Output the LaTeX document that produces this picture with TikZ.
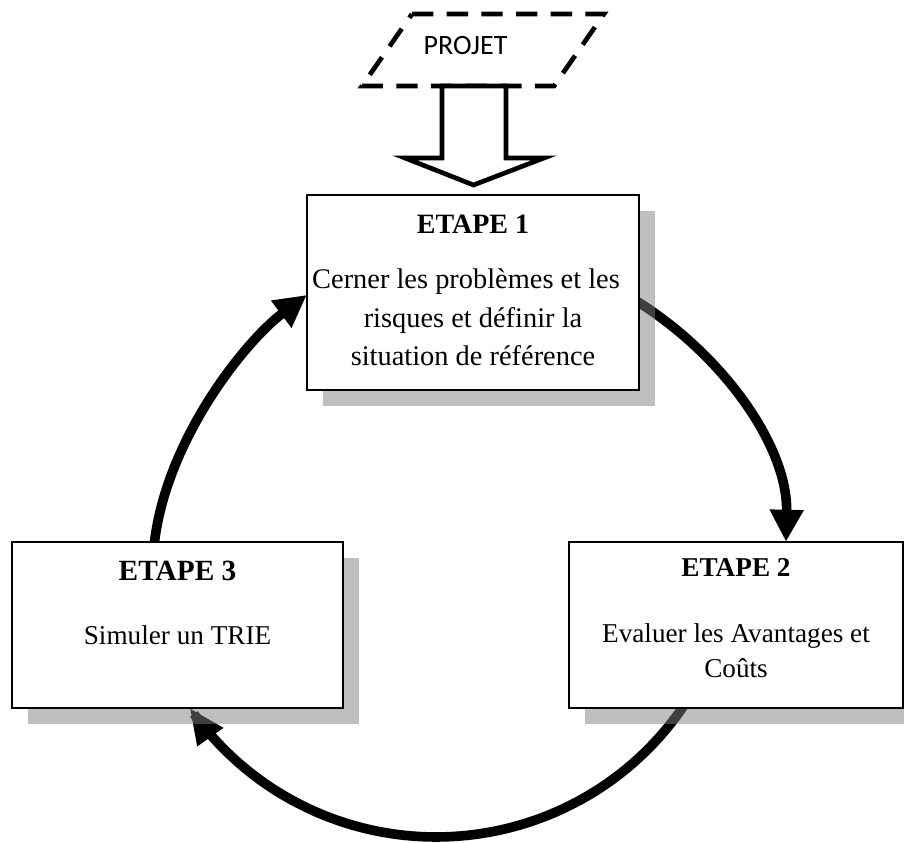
\documentclass[tikz,border=0pt]{standalone}
\usepackage{fontspec}
\setmainfont{Liberation Serif}
\newfontfamily\labelfont{Carlito}
\usetikzlibrary{arrows.meta,calc}
\definecolor{shadowgray}{RGB}{191,191,191}

\begin{document}
\begin{tikzpicture}[x=0.75pt,y=-0.75pt,
  stagebox/.style={draw=black, line width=1.5pt, fill=white, inner sep=0pt},
  shadowbox/.style={fill=shadowgray},
  shadowtint/.style={fill=shadowgray, fill opacity=0.333},
  cyclearrow/.style={line width=7.2pt, -{Triangle[length=24pt,width=24pt]}},
  steptitle/.style={font=\fontsize{20.4}{24}\selectfont\bfseries, anchor=base, inner sep=0pt},
  stepbody/.style={font=\fontsize{20.4}{24}\selectfont, anchor=base, inner sep=0pt},
  inputshape/.style={line width=3.5pt, dash pattern=on 16pt off 10pt, line join=miter},
  blockarrow/.style={draw=black, fill=white, line width=3.5pt, line join=miter},
]
\useasboundingbox (0,0) rectangle (904,843);

% stage boxes (placed first so their anchors can be used; drawn again on top)
\path (473,292.5) node[minimum width=249pt, minimum height=146.25pt, inner sep=0pt] (e1) {};
\path (736,625) node[minimum width=250.5pt, minimum height=124.5pt, inner sep=0pt] (e2) {};
\path (177.5,625) node[minimum width=248.25pt, minimum height=124.5pt, inner sep=0pt] (e3) {};

% drop shadows
\foreach \b in {e1,e2,e3}
  \fill[shadowbox] ($(\b.north west)+(16,16)$) rectangle ($(\b.south east)+(16,16)$);

% cycle connectors
\coordinate (a1s) at ($(e1.east)+(-11,3.5)$);
\coordinate (a1t) at ($(e2.north)+(50,0)$);
\draw[cyclearrow] (a1s) .. controls (720,350) and (788,445) .. (a1t);

\draw[cyclearrow, -{Triangle[length=27pt,width=22pt]}]
  plot[domain=30:145.5, samples=80] ({436+299*cos(\x)},{539+298*sin(\x)});

\coordinate (a3s) at ($(e3.north)+(-24.5,18)$);
\coordinate (a3t) at ($(e1.west)+(0,2.5)$);
\draw[cyclearrow] (a3s) .. controls (158,450) and (243,343) .. (a3t);

% shadows tint the connectors passing over them
\foreach \b in {e1,e2,e3}
  \fill[shadowtint] ($(\b.north west)+(16,16)$) rectangle ($(\b.south east)+(16,16)$);

% box frames
\foreach \b in {e1,e2,e3}
  \draw[stagebox] (\b.north west) rectangle (\b.south east);

% stage texts
\node[steptitle, font=\fontsize{21}{25}\selectfont\bfseries] (e1t) at (473,233) {ETAPE 1};
\node[stepbody, font=\fontsize{21.3}{25}\selectfont] (e1a) at (466,288) {Cerner les problèmes et les};
\node[stepbody, font=\fontsize{21.3}{25}\selectfont] (e1b) at (473,327) {risques et définir la};
\node[stepbody, font=\fontsize{21.3}{25}\selectfont] (e1c) at (473,365) {situation de référence};

\node[steptitle] (e2t) at (736,576) {ETAPE 2};
\node[stepbody] (e2a) at (736,642) {Evaluer les Avantages et};
\node[stepbody] (e2b) at (736,677) {Coûts};

\node[steptitle, font=\fontsize{22}{26}\selectfont\bfseries] (e3t) at (177.5,580) {ETAPE 3};
\node[stepbody] (e3a) at (177.5,644) {Simuler un TRIE};

% project input
\draw[inputshape] (412,14) -- (604,14) -- (554,86) -- (362,86) -- cycle;
\node[anchor=base, inner sep=0pt, font=\labelfont\fontsize{21}{25}\selectfont] (projet) at (465.5,54) {PROJET};

% hollow arrow into the first stage
\draw[blockarrow] (442,86) -- (442,158) -- (405,158) -- (473.5,185) -- (544,158)
  -- (506,158) -- (506,86) -- cycle;
\end{tikzpicture}
\end{document}
